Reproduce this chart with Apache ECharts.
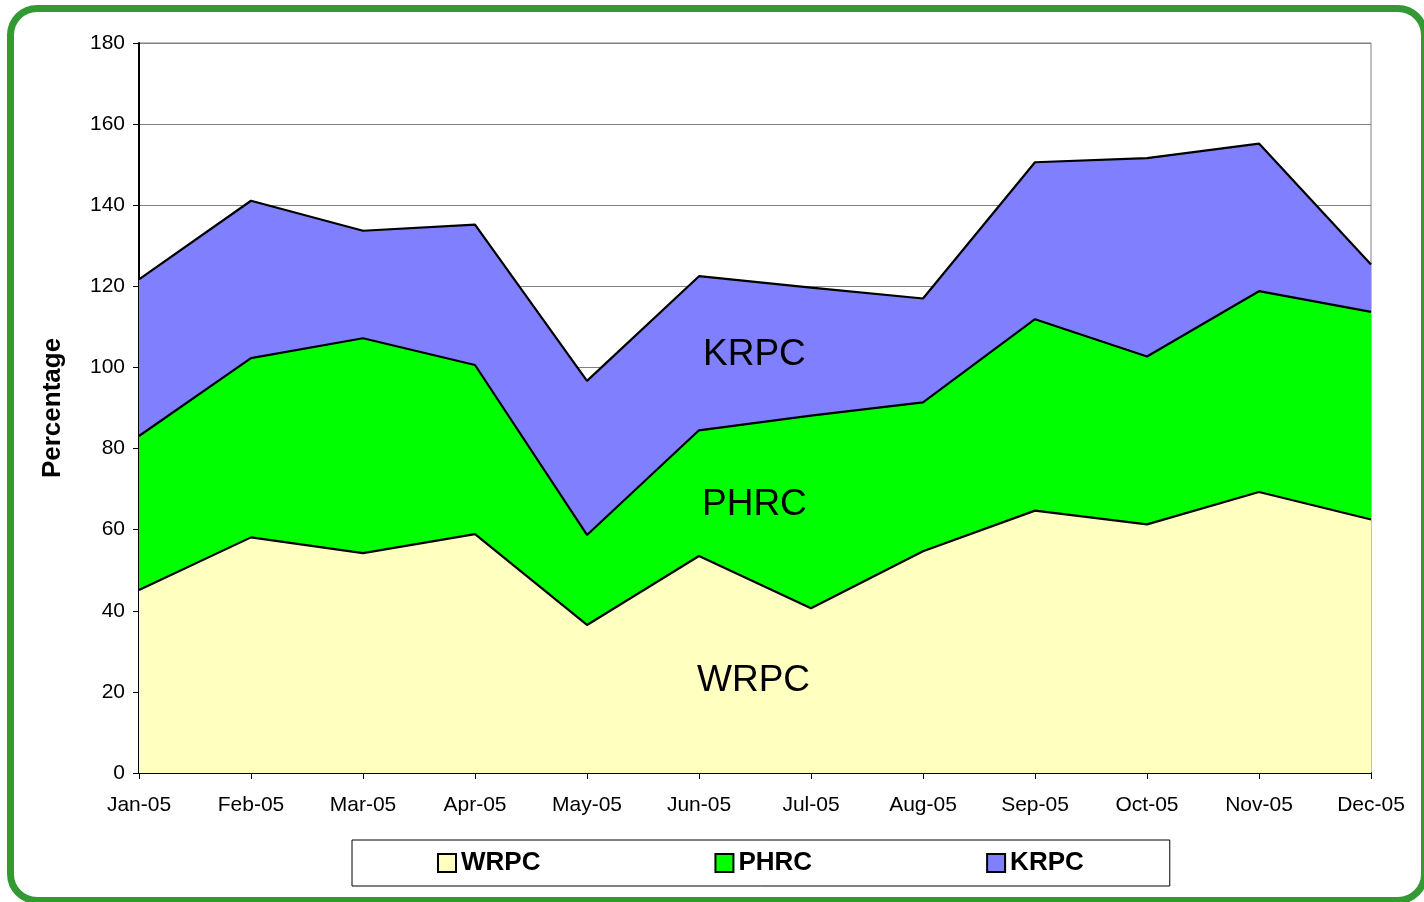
<!DOCTYPE html>
<html>
<head>
<meta charset="utf-8">
<title>Percentage by month</title>
<script src="https://cdn.jsdelivr.net/npm/echarts@6/dist/echarts.min.js"></script>
<style>
  html, body { margin: 0; padding: 0; background: #fff; }
  .frame {
    position: absolute; left: 7px; top: 5px; width: 1421px; height: 899px;
    box-sizing: border-box; border: 7px solid #339933; border-radius: 30px;
  }
  #main { position: absolute; left: 0; top: 0; width: 1424px; height: 902px; }
</style>
</head>
<body>
<div class="frame"></div>
<div id="main"></div>
<script>
// months on the x axis
const months = ['Jan-05', 'Feb-05', 'Mar-05', 'Apr-05', 'May-05', 'Jun-05',
  'Jul-05', 'Aug-05', 'Sep-05', 'Oct-05', 'Nov-05', 'Dec-05']

// stacked values
const wrpc = [45.1, 58.1, 54.2, 58.9, 36.5, 53.5, 40.6, 54.7, 64.7, 61.3, 69.3, 62.5]
const phrc = [38.0, 44.2, 53.0, 41.7, 22.2, 31.0, 47.5, 36.7, 47.2, 41.4, 49.5, 51.2]
const krpc = [38.6, 38.8, 26.5, 34.6, 38.0, 38.0, 31.6, 25.6, 38.7, 48.9, 36.4, 11.7]

const font = '"Liberation Sans", Arial, sans-serif'

function area (name, data, color) {
  return {
    name: name,
    type: 'line',
    stack: 'total',
    data: data,
    symbol: 'none',
    color: color,
    lineStyle: { color: '#000', width: 2.2 },
    areaStyle: { color: color, opacity: 1 },
    itemStyle: { color: color, borderColor: '#000', borderWidth: 1.5 }
  }
}

const myChart = echarts.init(document.getElementById('main'))
myChart.setOption({
  animation: false,
  grid: { left: 139, right: 53, top: 43, bottom: 129, show: true, borderColor: '#808080', borderWidth: 1 },
  legend: {
    left: 352, top: 840,
    padding: [10, 86, 10, 85],
    itemGap: 174,
    borderColor: '#000', borderWidth: 1,
    icon: 'rect', itemWidth: 18, itemHeight: 18,
    textStyle: { fontFamily: font, fontSize: 26, fontWeight: 'bold', color: '#000' },
    data: ['WRPC', 'PHRC', 'KRPC']
  },
  xAxis: {
    type: 'category',
    boundaryGap: false,
    data: months,
    axisLine: { lineStyle: { color: '#000', width: 2 } },
    axisTick: { show: true, length: 6, lineStyle: { color: '#000' } },
    axisLabel: { fontFamily: font, fontSize: 21, color: '#000', margin: 22 }
  },
  yAxis: {
    type: 'value',
    min: 0, max: 180, interval: 20,
    name: 'Percentage',
    nameLocation: 'middle',
    nameGap: 73,
    nameTextStyle: { fontFamily: font, fontSize: 26, fontWeight: 'bold', color: '#000' },
    axisLine: { show: true, lineStyle: { color: '#000', width: 2 } },
    axisTick: { show: true, length: 6, lineStyle: { color: '#000' } },
    axisLabel: { fontFamily: font, fontSize: 21, color: '#000', margin: 14 },
    splitLine: { lineStyle: { color: '#808080', width: 1 } }
  },
  graphic: [
    { type: 'text', left: 703, top: 336, z: 100, style: { text: 'KRPC', fontFamily: font, fontSize: 37, fill: '#000' } },
    { type: 'text', left: 702, top: 486, z: 100, style: { text: 'PHRC', fontFamily: font, fontSize: 37, fill: '#000' } },
    { type: 'text', left: 697, top: 662, z: 100, style: { text: 'WRPC', fontFamily: font, fontSize: 37, fill: '#000' } }
  ],
  series: [
    area('WRPC', wrpc, '#ffffc0'),
    area('PHRC', phrc, '#00ff00'),
    area('KRPC', krpc, '#8080ff')
  ]
})
</script>
</body>
</html>
